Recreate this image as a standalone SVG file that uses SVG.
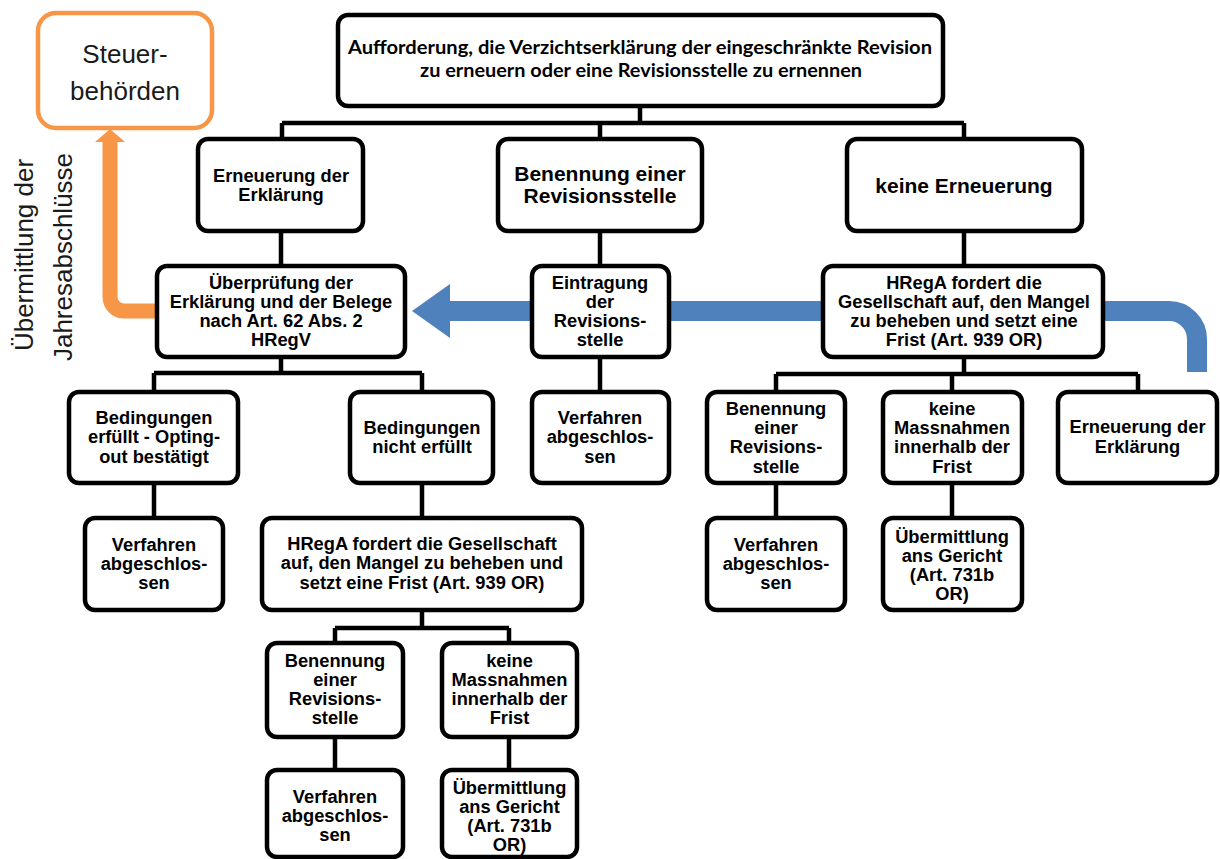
<svg xmlns="http://www.w3.org/2000/svg" width="1220" height="859" viewBox="0 0 1220 859">
<style>
.box{fill:#fff;stroke:#000;stroke-width:4.5}
.obox{fill:#fff;stroke:#F79646;stroke-width:4.5}
.t{font-family:"Liberation Sans",Arial,sans-serif;font-weight:bold;font-size:18.3px;fill:#000;text-anchor:middle}
.big{font-size:21px}
.top{font-family:Lato,"Liberation Sans",sans-serif;font-weight:bold;font-size:18.5px;fill:#000;text-anchor:middle}
.reg{font-family:"Liberation Sans",Arial,sans-serif;font-size:26px;fill:#1a1a1a;text-anchor:middle}
.conn{fill:none;stroke:#000;stroke-width:4.5}
</style>
<rect width="1220" height="859" fill="#fff"/>
<g id="connectors">
<path class="conn" d="M640 106V123M282 123H964M282 123V139M600 123V139M964 123V139"/>
<path class="conn" d="M281 231V266M600 231V266M964 231V266"/>
<path class="conn" d="M281 357V373M154 373H422M154 373V392M422 373V392"/>
<path class="conn" d="M600 357V392"/>
<path class="conn" d="M964 357V374M776 374H1138M776 374V392M952 374V392M1138 374V392"/>
<path class="conn" d="M154 483V518M422 483V518M776 483V518M952 483V518"/>
<path class="conn" d="M422 610V628M335 628H509M335 628V643M509 628V643"/>
<path class="conn" d="M335 737V770M509 737V770"/>
<path d="M1197 372V339A28 28 0 0 0 1169 311H448" fill="none" stroke="#4F81BD" stroke-width="20"/>
<polygon points="412,311 450,284 450,338" fill="#4F81BD"/>
<path d="M157 311H124A14 14 0 0 1 110 297V141" fill="none" stroke="#F79646" stroke-width="15"/>
<polygon points="95,142 125,142 110,129" fill="#F79646"/>
</g>
<g id="n_steuer"><rect class="obox" x="38" y="13" width="174" height="115" rx="18"/>
<text class="reg" x="125" y="63">Steuer-</text><text class="reg" x="125" y="100">behörden</text></g>
<g id="n_label"><text class="reg" transform="translate(33,255) rotate(-90)">Übermittlung der</text>
<text class="reg" transform="translate(72,257) rotate(-90)">Jahresabschlüsse</text></g>
<g id="n_top"><rect class="box" x="338" y="15" width="605" height="91" rx="10"/>
<text class="top" x="640" y="54" textLength="584" lengthAdjust="spacingAndGlyphs">Aufforderung, die Verzichtserklärung der eingeschränkte Revision</text>
<text class="top" x="641" y="77" textLength="442" lengthAdjust="spacingAndGlyphs">zu erneuern oder eine Revisionsstelle zu ernennen</text></g>
<g id="n_ern1"><rect class="box" x="198" y="139" width="165" height="92" rx="10"/>
<text class="t" x="281" y="182">Erneuerung der</text><text class="t" x="281" y="201">Erklärung</text></g>
<g id="n_ben1"><rect class="box" x="498" y="139" width="204" height="92" rx="10"/>
<text class="t big" x="600" y="181">Benennung einer</text><text class="t big" x="600" y="202.5">Revisionsstelle</text></g>
<g id="n_keine"><rect class="box" x="847" y="139" width="235" height="92" rx="10"/>
<text class="t big" x="964" y="193">keine Erneuerung</text></g>
<g id="n_ueber"><rect class="box" x="157" y="266" width="248" height="91" rx="10"/>
<text class="t" x="281" y="288.5">Überprüfung der</text><text class="t" x="281" y="307.5">Erklärung und der Belege</text><text class="t" x="281" y="326.5">nach Art. 62 Abs. 2</text><text class="t" x="281" y="345.5">HRegV</text></g>
<g id="n_eintr"><rect class="box" x="532" y="266" width="137" height="91" rx="10"/>
<text class="t" x="600" y="288.5">Eintragung</text><text class="t" x="600" y="307.5">der</text><text class="t" x="600" y="326.5">Revisions-</text><text class="t" x="600" y="345.5">stelle</text></g>
<g id="n_hrega1"><rect class="box" x="823" y="266" width="280" height="91" rx="10"/>
<text class="t" x="964" y="289">HRegA fordert die</text><text class="t" x="964" y="308">Gesellschaft auf, den Mangel</text><text class="t" x="964" y="327">zu beheben und setzt eine</text><text class="t" x="964" y="346">Frist (Art. 939 OR)</text></g>
<g id="n_bed1"><rect class="box" x="69" y="392" width="169" height="91" rx="10"/>
<text class="t" x="154" y="424">Bedingungen</text><text class="t" x="154" y="443.3">erfüllt - Opting-</text><text class="t" x="154" y="462.7">out bestätigt</text></g>
<g id="n_bed2"><rect class="box" x="350" y="392" width="143" height="91" rx="10"/>
<text class="t" x="422" y="434">Bedingungen</text><text class="t" x="422" y="453">nicht erfüllt</text></g>
<g id="n_verf1"><rect class="box" x="532" y="392" width="137" height="91" rx="10"/>
<text class="t" x="600" y="424">Verfahren</text><text class="t" x="600" y="443.3">abgeschlos-</text><text class="t" x="600" y="462.7">sen</text></g>
<g id="n_ben2"><rect class="box" x="707" y="392" width="138" height="91" rx="10"/>
<text class="t" x="776" y="415">Benennung</text><text class="t" x="776" y="434">einer</text><text class="t" x="776" y="453.3">Revisions-</text><text class="t" x="776" y="472.7">stelle</text></g>
<g id="n_keine2"><rect class="box" x="883" y="392" width="139" height="91" rx="10"/>
<text class="t" x="952" y="415">keine</text><text class="t" x="952" y="434">Massnahmen</text><text class="t" x="952" y="453.3">innerhalb der</text><text class="t" x="952" y="472.7">Frist</text></g>
<g id="n_ern2"><rect class="box" x="1058" y="392" width="159" height="91" rx="10"/>
<text class="t" x="1137.5" y="433">Erneuerung der</text><text class="t" x="1137.5" y="453">Erklärung</text></g>
<g id="n_verf2"><rect class="box" x="85" y="518" width="138" height="92" rx="10"/>
<text class="t" x="154" y="551">Verfahren</text><text class="t" x="154" y="570">abgeschlos-</text><text class="t" x="154" y="589">sen</text></g>
<g id="n_hrega2"><rect class="box" x="262" y="518" width="320" height="92" rx="10"/>
<text class="t" x="422" y="550">HRegA fordert die Gesellschaft</text><text class="t" x="422" y="569.3">auf, den Mangel zu beheben und</text><text class="t" x="422" y="588.6">setzt eine Frist (Art. 939 OR)</text></g>
<g id="n_verf3"><rect class="box" x="707" y="518" width="138" height="92" rx="10"/>
<text class="t" x="776" y="551">Verfahren</text><text class="t" x="776" y="570">abgeschlos-</text><text class="t" x="776" y="589">sen</text></g>
<g id="n_uebm1"><rect class="box" x="883" y="518" width="139" height="92" rx="10"/>
<text class="t" x="952" y="543">Übermittlung</text><text class="t" x="952" y="562">ans Gericht</text><text class="t" x="952" y="581">(Art. 731b</text><text class="t" x="952" y="600">OR)</text></g>
<g id="n_ben3"><rect class="box" x="267" y="643" width="136" height="94" rx="10"/>
<text class="t" x="335" y="667">Benennung</text><text class="t" x="335" y="686">einer</text><text class="t" x="335" y="705">Revisions-</text><text class="t" x="335" y="724">stelle</text></g>
<g id="n_keine3"><rect class="box" x="442" y="643" width="135" height="94" rx="10"/>
<text class="t" x="509.5" y="667">keine</text><text class="t" x="509.5" y="686">Massnahmen</text><text class="t" x="509.5" y="705">innerhalb der</text><text class="t" x="509.5" y="724">Frist</text></g>
<g id="n_verf4"><rect class="box" x="267" y="770" width="136" height="87" rx="10"/>
<text class="t" x="335" y="802.7">Verfahren</text><text class="t" x="335" y="821.7">abgeschlos-</text><text class="t" x="335" y="841">sen</text></g>
<g id="n_uebm2"><rect class="box" x="442" y="770" width="135" height="87" rx="10"/>
<text class="t" x="509.5" y="794">Übermittlung</text><text class="t" x="509.5" y="813">ans Gericht</text><text class="t" x="509.5" y="832">(Art. 731b</text><text class="t" x="509.5" y="851">OR)</text></g>
</svg>
